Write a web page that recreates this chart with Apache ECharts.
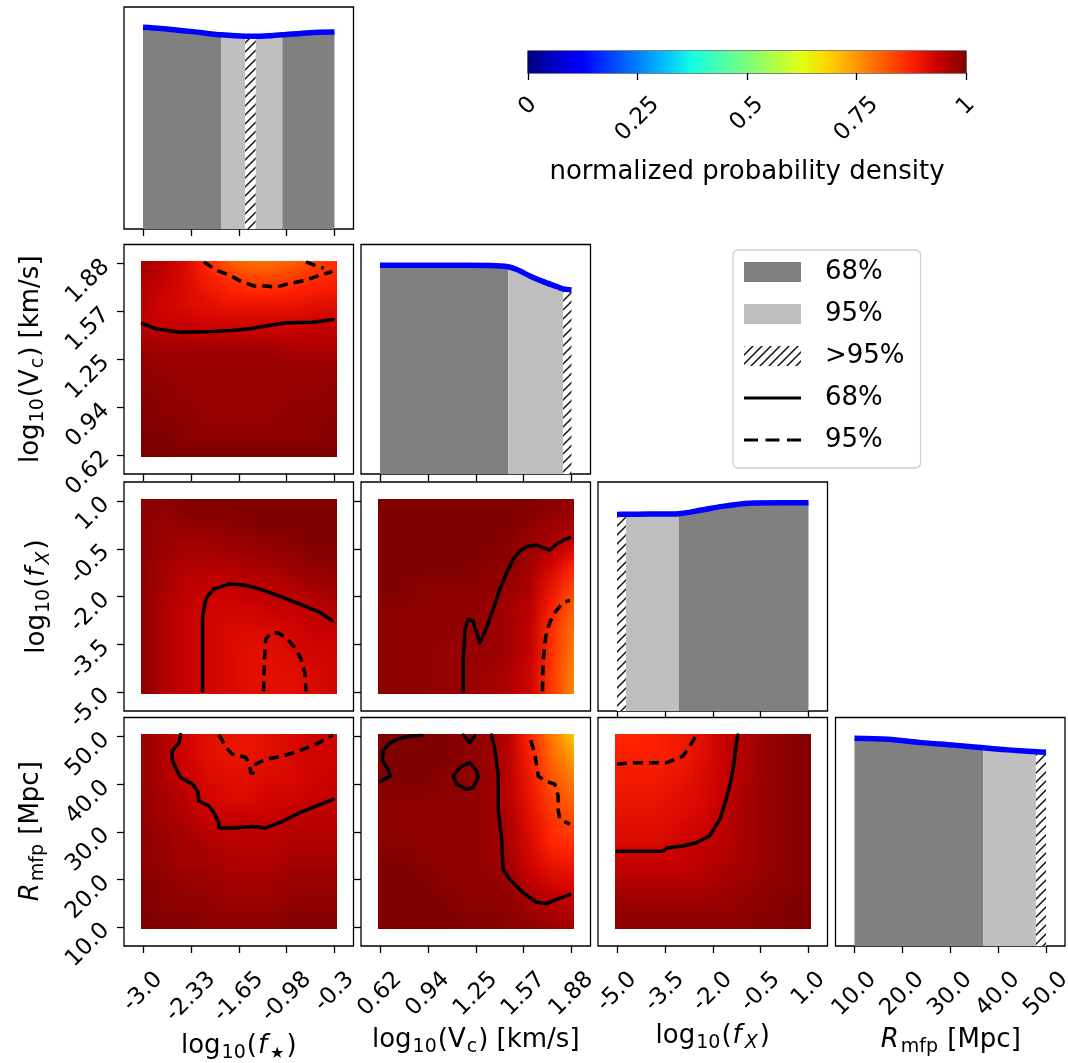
<!DOCTYPE html>
<html>
<head>
<meta charset="utf-8">
<title>Posterior corner plot</title>
<script src="https://cdn.jsdelivr.net/npm/echarts@6.0.0/dist/echarts.min.js"></script>
<style>
  html, body { margin: 0; padding: 0; background: #ffffff; }
  #chart { width: 1068px; height: 1063px; }
</style>
</head>
<body>
<div id="chart"></div>
<script>
const FONT = 'DejaVu Sans';

// ---- parameter ranges and tick labels ----------------------------------
const fStarRange = [-3.0, -0.3];
const fStarTickLabels = ['-3.0', '-2.33', '-1.65', '-0.98', '-0.3'];
const vcRange = [0.62, 1.88];
const vcTickLabels = ['0.62', '0.94', '1.25', '1.57', '1.88'];
const fxRange = [-5.0, 1.0];
const fxTickLabels = ['-5.0', '-3.5', '-2.0', '-0.5', '1.0'];
const rmfpRange = [10, 50];
const rmfpTickLabels = ['10.0', '20.0', '30.0', '40.0', '50.0'];
const colorbarRange = [0, 1];
const colorbarTickLabels = ['0', '0.25', '0.5', '0.75', '1'];

// ---- 1D marginal densities and credible regions ------------------------
const fStarCurveX = [-3.0, -2.75, -2.3, -1.9, -1.56, -1.41, -1.2, -1.035, -0.65, -0.3];
const fStarCurveY = [1.0, 0.994, 0.978, 0.962, 0.955, 0.955, 0.958, 0.962, 0.973, 0.976];
const fStarRegions = [[-3.0, -1.9, 'r68'], [-1.9, -1.56, 'r95'], [-1.56, -1.41, 'r95plus'], [-1.41, -1.035, 'r95'], [-1.035, -0.3, 'r68']];

const vcCurveX = [0.62, 0.9, 1.2, 1.35, 1.463, 1.52, 1.61, 1.69, 1.78, 1.825, 1.88];
const vcCurveY = [1.0, 1.0, 1.0, 0.999, 0.993, 0.98, 0.948, 0.923, 0.899, 0.887, 0.882];
const vcRegions = [[0.62, 1.463, 'r68'], [1.463, 1.825, 'r95'], [1.825, 1.88, 'r95plus']];

const fxCurveX = [-5.0, -4.72, -4.0, -3.06, -2.4, -1.7, -0.85, 0.2, 1.0];
const fxCurveY = [0.944, 0.945, 0.946, 0.948, 0.964, 0.983, 0.998, 1.0, 1.0];
const fxRegions = [[-5.0, -4.72, 'r95plus'], [-4.72, -3.06, 'r95'], [-3.06, 1.0, 'r68']];

const rmfpCurveX = [10, 17, 24, 30.8, 36.9, 41, 44.6, 47.9, 50];
const rmfpCurveY = [1.0, 0.995, 0.979, 0.967, 0.954, 0.946, 0.94, 0.935, 0.933];
const rmfpRegions = [[10, 36.9, 'r68'], [36.9, 47.9, 'r95'], [47.9, 50, 'r95plus']];

// ---- 2D normalised densities (rows: top -> bottom, columns: left -> right)
const densityFstarVc = [
  [0.97, 0.95, 0.92, 0.87, 0.82, 0.79, 0.79, 0.81, 0.84, 0.86],
  [0.96, 0.94, 0.92, 0.89, 0.87, 0.85, 0.85, 0.86, 0.87, 0.88],
  [0.95, 0.93, 0.92, 0.91, 0.90, 0.90, 0.90, 0.90, 0.91, 0.91],
  [0.95, 0.94, 0.94, 0.93, 0.93, 0.93, 0.93, 0.93, 0.94, 0.94],
  [0.98, 0.97, 0.97, 0.97, 0.97, 0.97, 0.97, 0.96, 0.96, 0.96],
  [0.99, 0.98, 0.98, 0.98, 0.98, 0.98, 0.98, 0.98, 0.98, 0.98],
  [0.99, 0.99, 0.98, 0.98, 0.98, 0.98, 0.98, 0.98, 0.98, 0.99],
  [1.00, 0.99, 0.99, 0.98, 0.98, 0.98, 0.98, 0.99, 0.99, 0.99],
  [1.00, 1.00, 0.99, 0.99, 0.99, 0.99, 0.99, 0.99, 0.99, 1.00],
  [1.00, 1.00, 1.00, 1.00, 1.00, 1.00, 1.00, 1.00, 1.00, 1.00]
];
const densityFstarFx = [
  [0.99, 0.99, 1.00, 1.00, 1.00, 1.00, 1.00, 1.00, 1.00, 1.00],
  [0.99, 0.98, 0.99, 0.99, 0.99, 1.00, 1.00, 1.00, 1.00, 1.00],
  [0.99, 0.98, 0.97, 0.97, 0.98, 0.98, 0.99, 0.99, 1.00, 1.00],
  [0.99, 0.97, 0.96, 0.96, 0.96, 0.97, 0.97, 0.98, 0.99, 0.99],
  [0.99, 0.97, 0.95, 0.94, 0.94, 0.95, 0.95, 0.96, 0.97, 0.98],
  [0.99, 0.96, 0.94, 0.93, 0.93, 0.93, 0.94, 0.94, 0.95, 0.96],
  [0.99, 0.96, 0.94, 0.93, 0.92, 0.92, 0.92, 0.93, 0.94, 0.94],
  [0.99, 0.96, 0.94, 0.93, 0.92, 0.91, 0.91, 0.92, 0.93, 0.93],
  [0.99, 0.96, 0.94, 0.93, 0.92, 0.91, 0.91, 0.91, 0.92, 0.93],
  [0.99, 0.96, 0.94, 0.93, 0.92, 0.91, 0.91, 0.91, 0.92, 0.93]
];
const densityFstarRmfp = [
  [0.98, 0.96, 0.93, 0.91, 0.90, 0.90, 0.91, 0.92, 0.93, 0.93],
  [0.98, 0.96, 0.93, 0.91, 0.90, 0.90, 0.91, 0.92, 0.93, 0.93],
  [0.98, 0.96, 0.94, 0.92, 0.91, 0.91, 0.92, 0.92, 0.93, 0.94],
  [0.98, 0.97, 0.95, 0.93, 0.92, 0.92, 0.93, 0.93, 0.94, 0.94],
  [0.99, 0.97, 0.96, 0.94, 0.94, 0.94, 0.94, 0.95, 0.95, 0.95],
  [0.99, 0.98, 0.97, 0.96, 0.95, 0.95, 0.95, 0.96, 0.96, 0.96],
  [0.99, 0.98, 0.97, 0.97, 0.96, 0.96, 0.96, 0.97, 0.97, 0.97],
  [1.00, 0.99, 0.98, 0.98, 0.97, 0.97, 0.97, 0.98, 0.98, 0.98],
  [1.00, 0.99, 0.99, 0.99, 0.98, 0.98, 0.98, 0.99, 0.99, 0.99],
  [1.00, 1.00, 1.00, 0.99, 0.99, 0.99, 0.99, 1.00, 1.00, 1.00]
];
const densityVcFx = [
  [1.00, 1.00, 1.00, 1.00, 1.00, 1.00, 1.00, 1.00, 0.99, 0.99],
  [1.00, 1.00, 1.00, 1.00, 1.00, 1.00, 1.00, 0.99, 0.98, 0.97],
  [1.00, 1.00, 1.00, 1.00, 1.00, 1.00, 0.99, 0.98, 0.96, 0.94],
  [1.00, 1.00, 1.00, 1.00, 1.00, 0.99, 0.99, 0.97, 0.93, 0.88],
  [1.00, 1.00, 0.99, 0.99, 0.99, 0.99, 0.98, 0.96, 0.90, 0.84],
  [0.99, 0.99, 0.99, 0.99, 0.99, 0.98, 0.97, 0.95, 0.88, 0.81],
  [0.99, 0.99, 0.99, 0.99, 0.98, 0.98, 0.97, 0.94, 0.86, 0.79],
  [0.99, 0.99, 0.99, 0.98, 0.98, 0.98, 0.97, 0.94, 0.86, 0.78],
  [0.99, 0.99, 0.99, 0.98, 0.98, 0.97, 0.96, 0.93, 0.85, 0.77],
  [0.99, 0.99, 0.99, 0.98, 0.98, 0.97, 0.96, 0.93, 0.85, 0.77]
];
const densityVcRmfp = [
  [1.00, 1.00, 1.00, 1.00, 0.99, 0.98, 0.95, 0.87, 0.78, 0.70],
  [1.00, 1.00, 1.00, 1.00, 0.99, 0.98, 0.95, 0.88, 0.80, 0.74],
  [1.00, 1.00, 1.00, 0.99, 0.99, 0.98, 0.95, 0.89, 0.82, 0.78],
  [0.99, 0.99, 0.99, 0.99, 0.99, 0.98, 0.95, 0.90, 0.84, 0.80],
  [0.99, 0.99, 0.99, 0.99, 0.99, 0.98, 0.96, 0.91, 0.86, 0.83],
  [0.99, 0.99, 0.99, 0.99, 0.99, 0.98, 0.96, 0.92, 0.87, 0.86],
  [1.00, 1.00, 0.99, 0.99, 0.99, 0.98, 0.97, 0.93, 0.90, 0.89],
  [1.00, 1.00, 1.00, 0.99, 0.99, 0.99, 0.98, 0.95, 0.93, 0.92],
  [1.00, 1.00, 1.00, 1.00, 0.99, 0.99, 0.99, 0.97, 0.96, 0.95],
  [1.00, 1.00, 1.00, 1.00, 1.00, 1.00, 0.99, 0.99, 0.98, 0.97]
];
const densityFxRmfp = [
  [0.87, 0.87, 0.88, 0.89, 0.91, 0.94, 0.96, 0.98, 0.99, 1.00],
  [0.88, 0.88, 0.88, 0.89, 0.91, 0.94, 0.96, 0.98, 0.99, 1.00],
  [0.89, 0.89, 0.89, 0.90, 0.92, 0.94, 0.96, 0.98, 0.99, 1.00],
  [0.90, 0.90, 0.90, 0.91, 0.92, 0.94, 0.97, 0.98, 0.99, 1.00],
  [0.91, 0.91, 0.91, 0.92, 0.93, 0.95, 0.97, 0.98, 0.99, 1.00],
  [0.92, 0.92, 0.92, 0.93, 0.94, 0.95, 0.97, 0.98, 0.99, 1.00],
  [0.94, 0.94, 0.94, 0.94, 0.95, 0.96, 0.97, 0.98, 0.99, 1.00],
  [0.96, 0.96, 0.96, 0.96, 0.96, 0.97, 0.98, 0.99, 0.99, 1.00],
  [0.98, 0.98, 0.98, 0.98, 0.98, 0.98, 0.99, 0.99, 1.00, 1.00],
  [0.99, 0.99, 0.99, 0.99, 0.99, 0.99, 0.99, 1.00, 1.00, 1.00]
];

// ---- 68% and 95% contours (each list holds one or more separate pieces)
const contourFstarVc68 = [[[-3.01, 1.484], [-2.82, 1.451], [-2.49, 1.428], [-2.02, 1.433], [-1.74, 1.439], [-1.50, 1.451], [-1.22, 1.472], [-0.98, 1.490], [-0.61, 1.494], [-0.32, 1.512]]];
const contourFstarVc95 = [
  [[-2.14, 1.89], [-1.97, 1.836], [-1.78, 1.803], [-1.60, 1.758], [-1.43, 1.732], [-1.27, 1.732], [-1.12, 1.725], [-0.94, 1.748], [-0.70, 1.770], [-0.51, 1.803], [-0.37, 1.821], [-0.33, 1.83]],
  [[-0.70, 1.89], [-0.55, 1.862], [-0.45, 1.85]]
];
const contourFstarFx68 = [[[-2.16, -4.98], [-2.16, -2.61], [-2.11, -2.05], [-2.0, -1.76], [-1.78, -1.61], [-1.57, -1.64], [-1.36, -1.76], [-1.08, -1.98], [-0.79, -2.24], [-0.51, -2.49], [-0.33, -2.76]]];
const contourFstarFx95 = [[[-1.30, -4.98], [-1.29, -4.08], [-1.27, -3.34], [-1.19, -3.14], [-1.10, -3.14], [-0.98, -3.29], [-0.84, -3.66], [-0.77, -3.97], [-0.72, -4.39], [-0.70, -4.98]]];
const contourFstarRmfp68 = [[[-2.47, 50.4], [-2.49, 48.7], [-2.59, 47.0], [-2.59, 45.2], [-2.52, 42.8], [-2.47, 41.4], [-2.30, 40.0], [-2.23, 38.5], [-2.21, 36.4], [-2.07, 35.4], [-2.0, 34.0], [-1.93, 31.9], [-1.93, 30.8], [-1.74, 30.8], [-1.46, 31.1], [-1.27, 30.8], [-1.03, 32.2], [-0.79, 34.0], [-0.56, 35.4], [-0.32, 36.8]]];
const contourFstarRmfp95 = [[[-1.93, 50.4], [-1.83, 47.7], [-1.74, 46.3], [-1.55, 45.6], [-1.50, 44.2], [-1.48, 42.4], [-1.45, 42.3], [-1.41, 44.2], [-1.27, 45.2], [-1.03, 45.9], [-0.79, 47.0], [-0.56, 48.4], [-0.32, 50.3]]];
const contourVcFx68 = [[[1.168, -4.98], [1.168, -3.92], [1.179, -3.03], [1.200, -2.72], [1.233, -2.77], [1.256, -3.14], [1.277, -3.45], [1.299, -3.24], [1.321, -2.98], [1.365, -2.40], [1.409, -1.77], [1.453, -1.25], [1.496, -0.83], [1.540, -0.57], [1.584, -0.44], [1.650, -0.38], [1.693, -0.47], [1.737, -0.54], [1.781, -0.36], [1.825, -0.23], [1.869, -0.15]]];
const contourVcFx95 = [[[1.689, -4.98], [1.693, -4.08], [1.705, -3.45], [1.716, -3.14], [1.737, -2.82], [1.770, -2.51], [1.825, -2.19], [1.869, -2.12]]];
const contourVcRmfp68 = [
  [[0.62, 40.6], [0.69, 41.7], [0.67, 43.3], [0.635, 45.0], [0.64, 47.0], [0.68, 48.5], [0.74, 49.5], [0.82, 50.1], [0.90, 50.2]],
  [[1.168, 50.3], [1.212, 48.7], [1.244, 50.2]],
  [[1.146, 43.5], [1.212, 44.5], [1.256, 42.8], [1.266, 41.4], [1.233, 39.3], [1.190, 38.9], [1.124, 40.0], [1.102, 41.7], [1.146, 43.5]],
  [[1.354, 50.3], [1.376, 47.3], [1.398, 41.7], [1.398, 34.7], [1.420, 28.4], [1.430, 22.1], [1.474, 20.0], [1.562, 17.2], [1.650, 15.2], [1.716, 14.9], [1.781, 15.8], [1.869, 16.8]]
];
const contourVcRmfp95 = [[[1.612, 49.2], [1.639, 46.3], [1.661, 41.7], [1.705, 40.7], [1.770, 40.0], [1.792, 37.5], [1.792, 34.7], [1.803, 32.6], [1.869, 31.6]]];
const contourFxRmfp68 = [[[-5.0, 25.9], [-4.48, 25.9], [-3.55, 25.9], [-3.44, 26.6], [-2.93, 27.0], [-2.51, 27.7], [-2.10, 29.1], [-1.78, 32.6], [-1.58, 36.8], [-1.42, 41.0], [-1.32, 45.2], [-1.26, 48.7], [-1.21, 50.3]]];
const contourFxRmfp95 = [[[-5.0, 44.2], [-4.48, 44.5], [-3.44, 44.5], [-2.93, 45.9], [-2.72, 48.0], [-2.51, 50.3]]];

// ---- legend entries -----------------------------------------------------
const legendKeys = ['r68', 'r95', 'r95plus', 'c68', 'c95'];
const legendLabels = ['68%', '95%', '>95%', '68%', '95%'];

// ---- colour map (jet) ---------------------------------------------------
const JET = ['#000080', '#0000c8', '#0000ff', '#0040ff', '#0080ff', '#00c0ff', '#14ffe2', '#48ffaf',
  '#7bff7b', '#afff48', '#e2ff14', '#ffd200', '#ff9700', '#ff5c00', '#ff2100', '#c80000', '#800000'];
const JET_RGB = JET.map(h => [parseInt(h.slice(1, 3), 16), parseInt(h.slice(3, 5), 16), parseInt(h.slice(5, 7), 16)]);
function jet(v) {
  v = Math.max(0, Math.min(1, v));
  const f = v * (JET.length - 1);
  const i = Math.min(JET.length - 2, Math.floor(f));
  const t = f - i, a = JET_RGB[i], b = JET_RGB[i + 1];
  return 'rgb(' + Math.round(a[0] + (b[0] - a[0]) * t) + ',' + Math.round(a[1] + (b[1] - a[1]) * t) + ',' + Math.round(a[2] + (b[2] - a[2]) * t) + ')';
}

// hatch used for the tail (>95%) region
function makeHatch() {
  const s = 9;
  const cv = document.createElement('canvas');
  cv.width = s; cv.height = s;
  const ctx = cv.getContext('2d');
  ctx.fillStyle = '#ffffff'; ctx.fillRect(0, 0, s, s);
  ctx.strokeStyle = '#111111'; ctx.lineWidth = 1.5;
  ctx.beginPath();
  ctx.moveTo(-1, s + 1); ctx.lineTo(s + 1, -1);
  ctx.moveTo(-1, 1); ctx.lineTo(1, -1);
  ctx.moveTo(s - 1, s + 1); ctx.lineTo(s + 1, s - 1);
  ctx.stroke();
  return cv;
}
const HATCH = { image: makeHatch(), repeat: 'repeat' };
const REGION_FILL = { r68: '#808080', r95: '#bfbfbf', r95plus: HATCH };

// ---- panel geometry -------------------------------------------------------
const COL_LEFT = [124, 361, 598, 835.5];
const COL_WIDTH = 229.5;
const ROW_TOP = [7, 244.5, 482, 717.5];
const ROW_HEIGHT = [222, 229.5, 229, 228.5];
const PAD = 19;           // gap between frame and outermost tick
const EDGE = 0.012;       // density image overhang beyond the tick range
const TICK_FONT = 23;
const NAME_FONT = 26;

const RICH_NAME = {
  sub: { fontFamily: FONT, fontSize: 19, lineHeight: 19, padding: [14, 1, 0, 1], color: '#000' },
  subit: { fontFamily: FONT, fontSize: 19, lineHeight: 19, fontStyle: 'italic', padding: [14, 2, 0, 2], color: '#000' },
  star: { fontFamily: FONT, fontSize: 16, lineHeight: 16, padding: [16, 2, 0, 2], color: '#000' },
  it: { fontFamily: FONT, fontSize: NAME_FONT, fontStyle: 'italic', padding: [0, 1, 0, 1], color: '#000' }
};

const PARAMS = [
  { range: fStarRange, labels: fStarTickLabels, title: 'log{sub|10}({it|f}{star|★})', gapX: 96, gapY: 93 },
  { range: vcRange, labels: vcTickLabels, title: 'log{sub|10}(V{sub|c}) [km/s]', gapX: 91, gapY: 93 },
  { range: fxRange, labels: fxTickLabels, title: 'log{sub|10}({it|f}{subit|X})', gapX: 86, gapY: 87 },
  { range: rmfpRange, labels: rmfpTickLabels, title: '{it|R}{sub|mfp} [Mpc]', gapX: 90, gapY: 93 }
];
const MARGINALS = [
  { x: fStarCurveX, y: fStarCurveY, regions: fStarRegions },
  { x: vcCurveX, y: vcCurveY, regions: vcRegions },
  { x: fxCurveX, y: fxCurveY, regions: fxRegions },
  { x: rmfpCurveX, y: rmfpCurveY, regions: rmfpRegions }
];
const DENSITY = { '1,0': densityFstarVc, '2,0': densityFstarFx, '3,0': densityFstarRmfp, '2,1': densityVcFx, '3,1': densityVcRmfp, '3,2': densityFxRmfp };
const CONTOURS = {
  '1,0': [contourFstarVc68, contourFstarVc95], '2,0': [contourFstarFx68, contourFstarFx95],
  '3,0': [contourFstarRmfp68, contourFstarRmfp95], '2,1': [contourVcFx68, contourVcFx95],
  '3,1': [contourVcRmfp68, contourVcRmfp95], '3,2': [contourFxRmfp68, contourFxRmfp95]
};

// ---- helpers ---------------------------------------------------------------
function tickValues(r) { return [0, 1, 2, 3, 4].map(i => r[0] + (r[1] - r[0]) * i / 4); }
function padded(r, sizePx) {
  const k = PAD / (sizePx - 2 * PAD), s = r[1] - r[0];
  return [r[0] - s * k, r[1] + s * k];
}
function nearest(ticks, v) {
  let best = 0;
  for (let i = 1; i < ticks.length; i++) if (Math.abs(ticks[i] - v) < Math.abs(ticks[best] - v)) best = i;
  return best;
}
const measureCtx = document.createElement('canvas').getContext('2d');
function textWidth(str, size) { measureCtx.font = size + 'px "' + FONT + '"'; return measureCtx.measureText(str).width; }

// slanted labels, centred under their tick with a common top edge
function slantedLabelStyle(labels, ticks, size, gapTop) {
  const halves = labels.map(s => 0.354 * (textWidth(s, size) + 0.73 * size));
  const maxHalf = Math.max.apply(null, halves);
  const rich = {};
  labels.forEach((s, i) => {
    const p = 1.414 * (maxHalf - halves[i]);
    rich['t' + i] = { fontFamily: FONT, fontSize: size, color: '#000', padding: [0, 0, p, p] };
  });
  return {
    show: true, customValues: ticks, rotate: 45, align: 'center', verticalAlign: 'middle',
    margin: gapTop + maxHalf, fontFamily: FONT, fontSize: size, color: '#000', rich,
    showMinLabel: true, showMaxLabel: true,
    formatter: v => { const i = nearest(ticks, v); return '{t' + i + '|' + labels[i] + '}'; }
  };
}
function nameStyle() {
  return { fontFamily: FONT, fontSize: NAME_FONT, color: '#000', lineHeight: 34, align: 'center', verticalAlign: 'middle', rich: RICH_NAME };
}
const TICK_LINE = { color: '#000', width: 1.3 };

// density image: each band between neighbouring node rows is shaded with
// horizontal gradients through the node colours (pixel-snapped strips)
function densitySeries(k, xr, yr, G) {
  const nR = G.length, nC = G[0].length, SUB = 10;
  const ex = (xr[1] - xr[0]) * EDGE, ey = (yr[1] - yr[0]) * EDGE;
  const x0 = xr[0] - ex, x1 = xr[1] + ex, y0 = yr[0] - ey, y1 = yr[1] + ey;
  const data = [];
  for (let j = 0; j < nR - 1; j++) {
    data.push([x0, x1, y1 - (y1 - y0) * j / (nR - 1), y1 - (y1 - y0) * (j + 1) / (nR - 1), j]);
  }
  return {
    type: 'custom', xAxisIndex: k, yAxisIndex: k, data, silent: true, z: 1,
    encode: { x: [0, 1], y: [2, 3] },
    renderItem(params, api) {
      const j = api.value(4);
      const pA = api.coord([api.value(0), api.value(2)]);
      const pB = api.coord([api.value(1), api.value(3)]);
      const xL = Math.round(pA[0]), xR = Math.round(pB[0]);
      const h = pB[1] - pA[1];
      const last = j === nR - 2;
      const children = [];
      for (let s = 0; s < SUB; s++) {
        const t = (s + 0.5) / SUB;
        const stops = G[j].map((v, i) => ({ offset: i / (nC - 1), color: jet(v * (1 - t) + G[j + 1][i] * t) }));
        const yT = Math.round(pA[1] + h * s / SUB);
        const yB = Math.round(pA[1] + h * (s + 1) / SUB);
        const extra = (last && s === SUB - 1) ? 0 : 1;
        children.push({
          type: 'rect',
          shape: { x: xL, y: yT, width: xR - xL, height: yB - yT + extra },
          style: { fill: new echarts.graphic.LinearGradient(0, 0, 1, 0, stops) }
        });
      }
      return { type: 'group', children };
    }
  };
}

// ---- build option ------------------------------------------------------------
const grids = [], xAxes = [], yAxes = [], series = [];
let k = 0;
for (let r = 0; r < 4; r++) {
  for (let c = 0; c <= r; c++) {
    const px = PARAMS[c];
    grids.push({
      left: COL_LEFT[c], top: ROW_TOP[r], width: COL_WIDTH, height: ROW_HEIGHT[r],
      show: true, borderColor: '#000', borderWidth: 1.3, backgroundColor: 'rgba(0,0,0,0)',
      containLabel: false, outerBoundsMode: 'none'
    });
    const xr = padded(px.range, COL_WIDTH);
    const xt = tickValues(px.range);
    const xLabel = r === 3 ? slantedLabelStyle(px.labels, xt, TICK_FONT, 24) : { show: false, customValues: xt };
    xAxes.push({
      type: 'value', gridIndex: k, min: xr[0], max: xr[1], position: 'bottom',
      axisLine: { show: false }, splitLine: { show: false },
      axisTick: { show: true, inside: false, length: 7, customValues: xt, lineStyle: TICK_LINE },
      axisLabel: xLabel,
      name: r === 3 ? px.title : '', nameLocation: 'middle', nameGap: px.gapX, nameTextStyle: nameStyle()
    });

    if (r === c) {
      // 1D marginal panel
      yAxes.push({ type: 'value', gridIndex: k, min: 0, max: 1.1, show: false });
      const m = MARGINALS[c];
      const pts = m.x.map((x, i) => [x, m.y[i]]);
      m.regions.forEach(reg => {
        series.push({
          type: 'line', name: reg[2], xAxisIndex: k, yAxisIndex: k, silent: true, z: 2,
          data: pts.filter(p => p[0] >= reg[0] - 1e-9 && p[0] <= reg[1] + 1e-9),
          symbol: 'none', lineStyle: { width: 0, opacity: 0 },
          areaStyle: { color: REGION_FILL[reg[2]], opacity: 1 }
        });
      });
      series.push({
        type: 'line', name: 'marginal', xAxisIndex: k, yAxisIndex: k, silent: true, z: 4,
        data: pts, symbol: 'none', smooth: 0.3, itemStyle: { color: '#0000ff' },
        lineStyle: { color: '#0000ff', width: 5.5, cap: 'butt', join: 'round' }
      });
    } else {
      // 2D joint panel
      const py = PARAMS[r];
      const yr = padded(py.range, ROW_HEIGHT[r]);
      const yt = tickValues(py.range);
      yAxes.push({
        type: 'value', gridIndex: k, min: yr[0], max: yr[1], position: 'left',
        axisLine: { show: false }, splitLine: { show: false },
        axisTick: { show: true, inside: false, length: 7, customValues: yt, lineStyle: TICK_LINE },
        axisLabel: {
          show: c === 0, customValues: yt, rotate: 45, align: 'right', verticalAlign: 'middle', margin: 18,
          fontFamily: FONT, fontSize: TICK_FONT, color: '#000', showMinLabel: true, showMaxLabel: true,
          formatter: v => py.labels[nearest(yt, v)]
        },
        name: c === 0 ? py.title : '', nameLocation: 'middle', nameRotate: 90, nameGap: py.gapY,
        nameTextStyle: nameStyle()
      });
      const key = r + ',' + c;
      series.push(densitySeries(k, px.range, py.range, DENSITY[key]));
      const levels = CONTOURS[key];
      ['c68', 'c95'].forEach((nm, li) => {
        levels[li].forEach(piece => {
          series.push({
            type: 'line', name: nm, xAxisIndex: k, yAxisIndex: k, silent: true, z: 5,
            data: piece, symbol: 'none', itemStyle: { color: '#000' },
            lineStyle: { color: '#000', width: 3.5, type: li === 0 ? 'solid' : [10, 6], cap: li === 0 ? 'round' : 'butt', join: 'round' }
          });
        });
      });
    }
    k++;
  }
}

// colour bar
const cbIndex = k;
grids.push({ left: 528, top: 51, width: 438, height: 22, show: true, borderColor: '#000', borderWidth: 1.2,
  backgroundColor: 'rgba(0,0,0,0)', containLabel: false, outerBoundsMode: 'none' });
const cbTicks = tickValues(colorbarRange);
xAxes.push({
  type: 'value', gridIndex: cbIndex, min: colorbarRange[0], max: colorbarRange[1], position: 'bottom',
  axisLine: { show: false }, splitLine: { show: false },
  axisTick: { show: true, inside: false, length: 7, customValues: cbTicks, lineStyle: TICK_LINE },
  axisLabel: slantedLabelStyle(colorbarTickLabels, cbTicks, TICK_FONT, 22),
  name: 'normalized probability density', nameLocation: 'middle', nameGap: 99, nameTextStyle: nameStyle()
});
yAxes.push({ type: 'value', gridIndex: cbIndex, min: 0, max: 1, show: false });
series.push({
  type: 'custom', xAxisIndex: cbIndex, yAxisIndex: cbIndex, silent: true, z: 1,
  data: [[colorbarRange[0], colorbarRange[1]]], encode: { x: [0, 1] },
  renderItem(params, api) {
    const a = api.coord([api.value(0), 1]);
    const b = api.coord([api.value(1), 0]);
    return {
      type: 'rect', shape: { x: a[0], y: a[1], width: b[0] - a[0], height: b[1] - a[1] },
      style: { fill: new echarts.graphic.LinearGradient(0, 0, 1, 0, JET.map((col, i) => ({ offset: i / (JET.length - 1), color: col }))) }
    };
  }
});

const LEGEND_ICON = {
  r68: { icon: 'rect', itemStyle: { color: '#808080', borderWidth: 0 } },
  r95: { icon: 'rect', itemStyle: { color: '#bfbfbf', borderWidth: 0 } },
  r95plus: { icon: 'rect', itemStyle: { color: HATCH, borderWidth: 0 } },
  c68: { icon: 'path://M0,0H57V3.2H0Z', itemStyle: { color: '#000', borderWidth: 0 } },
  c95: { icon: 'path://M0,0H14V3.2H0Z M21.5,0H35.5V3.2H21.5Z M43,0H57V3.2H43Z', itemStyle: { color: '#000', borderWidth: 0 } }
};

const option = {
  animation: false,
  backgroundColor: '#ffffff',
  grid: grids,
  xAxis: xAxes,
  yAxis: yAxes,
  series,
  legend: {
    orient: 'vertical', left: 733, top: 250, selectedMode: false,
    padding: [7, 16, 13, 11], itemWidth: 57, itemHeight: 20, itemGap: 12,
    backgroundColor: '#ffffff', borderColor: '#d0d0d0', borderWidth: 1.3, borderRadius: 5,
    textStyle: { fontFamily: FONT, fontSize: NAME_FONT, color: '#000', lineHeight: 30, padding: [0, 0, 0, 19] },
    formatter: n => legendLabels[legendKeys.indexOf(n)],
    data: legendKeys.map(n => Object.assign({ name: n }, LEGEND_ICON[n]))
  }
};

const chart = echarts.init(document.getElementById('chart'), null, { renderer: 'canvas' });
chart.setOption(option);
</script>
</body>
</html>
